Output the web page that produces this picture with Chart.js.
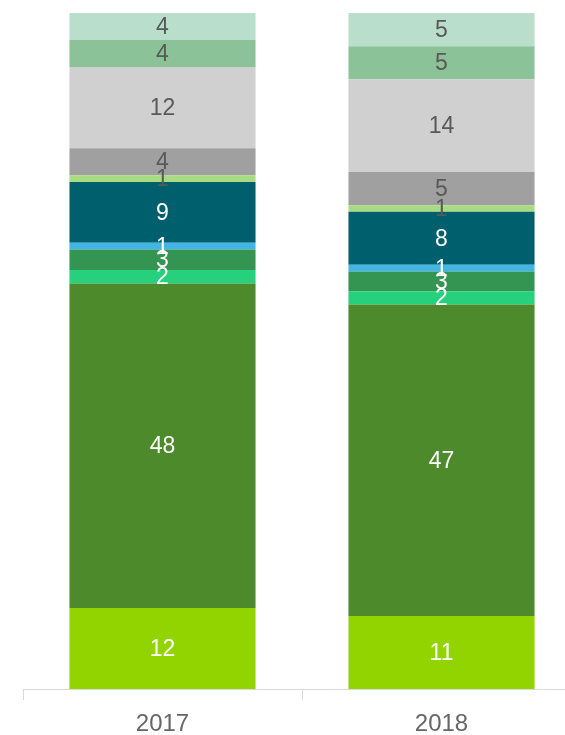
<!DOCTYPE html>
<html>
<head>
<meta charset="utf-8">
<script src="https://cdn.jsdelivr.net/npm/chart.js@4.4.0/dist/chart.umd.min.js"></script>
<style>
  html, body { margin: 0; padding: 0; background: #fff; overflow: hidden; }
  #wrap { width: 600px; height: 735px; }
</style>
</head>
<body>
<div id="wrap"><canvas id="shareChart" width="600" height="735"></canvas></div>
<script>
// Category labels
const years = ['2017', '2018'];

// Segment values per year, bottom to top
const segLime      = [12, 11];
const segForest    = [48, 47];
const segBright    = [2, 2];
const segMidGreen  = [3, 3];
const segSky       = [1, 1];
const segTeal      = [9, 8];
const segPaleGreen = [1, 1];
const segGray      = [4, 5];
const segLightGray = [12, 14];
const segSage      = [4, 5];
const segMint      = [4, 5];

// Fill colours and label colours, same order as the segments
const series = [
    { values: segLime,      color: '#92d400', text: '#ffffff' },
    { values: segForest,    color: '#4c8a2b', text: '#ffffff' },
    { values: segBright,    color: '#26d07c', text: '#ffffff' },
    { values: segMidGreen,  color: '#349452', text: '#ffffff' },
    { values: segSky,       color: '#41b6e6', text: '#ffffff' },
    { values: segTeal,      color: '#005f6c', text: '#ffffff' },
    { values: segPaleGreen, color: '#a7dc82', text: '#595959' },
    { values: segGray,      color: '#a0a0a0', text: '#595959' },
    { values: segLightGray, color: '#d0d0d0', text: '#595959' },
    { values: segSage,      color: '#8cc298', text: '#595959' },
    { values: segMint,      color: '#b9dfcc', text: '#595959' }
];

// Each column is shown as a share of its own total
const totals = years.map((_, i) => series.reduce((sum, s) => sum + s.values[i], 0));

const datasets = series.map(s => ({
    data: s.values.map((v, i) => v / totals[i] * 100),
    raw: s.values,
    labelColor: s.text,
    backgroundColor: s.color,
    borderWidth: 0,
    barPercentage: 0.667,
    categoryPercentage: 1
}));

// Writes the raw value in the middle of every segment
const segmentLabels = {
    id: 'segmentLabels',
    afterDatasetsDraw(chart) {
        const ctx = chart.ctx;
        ctx.save();
        ctx.font = '23px "Liberation Sans", Arial, sans-serif';
        ctx.textAlign = 'center';
        ctx.textBaseline = 'middle';
        chart.data.datasets.forEach((ds, di) => {
            chart.getDatasetMeta(di).data.forEach((bar, i) => {
                const mid = (bar.y + bar.base) / 2;
                ctx.fillStyle = ds.labelColor;
                ctx.fillText(String(ds.raw[i]), bar.x, mid + 1);
            });
        });
        ctx.restore();
    }
};

new Chart(document.getElementById('shareChart'), {
    type: 'bar',
    data: { labels: years, datasets: datasets },
    options: {
        responsive: false,
        animation: false,
        devicePixelRatio: 1,
        layout: { padding: { left: 23, right: 19, top: 13, bottom: 0 } },
        plugins: {
            legend: { display: false },
            tooltip: { enabled: false }
        },
        scales: {
            x: {
                stacked: true,
                grid: {
                    display: true,
                    drawOnChartArea: false,
                    drawTicks: true,
                    tickLength: 11,
                    color: '#d9d9d9',
                    lineWidth: 1
                },
                border: { display: true, color: '#d9d9d9', width: 1 },
                ticks: {
                    padding: 10,
                    color: '#666666',
                    font: { family: '"Liberation Sans", Arial, sans-serif', size: 24 }
                },
                afterFit(scale) { scale.height = 46; }
            },
            y: {
                stacked: true,
                display: false,
                min: 0,
                max: 100
            }
        }
    },
    plugins: [segmentLabels]
});
</script>
</body>
</html>
